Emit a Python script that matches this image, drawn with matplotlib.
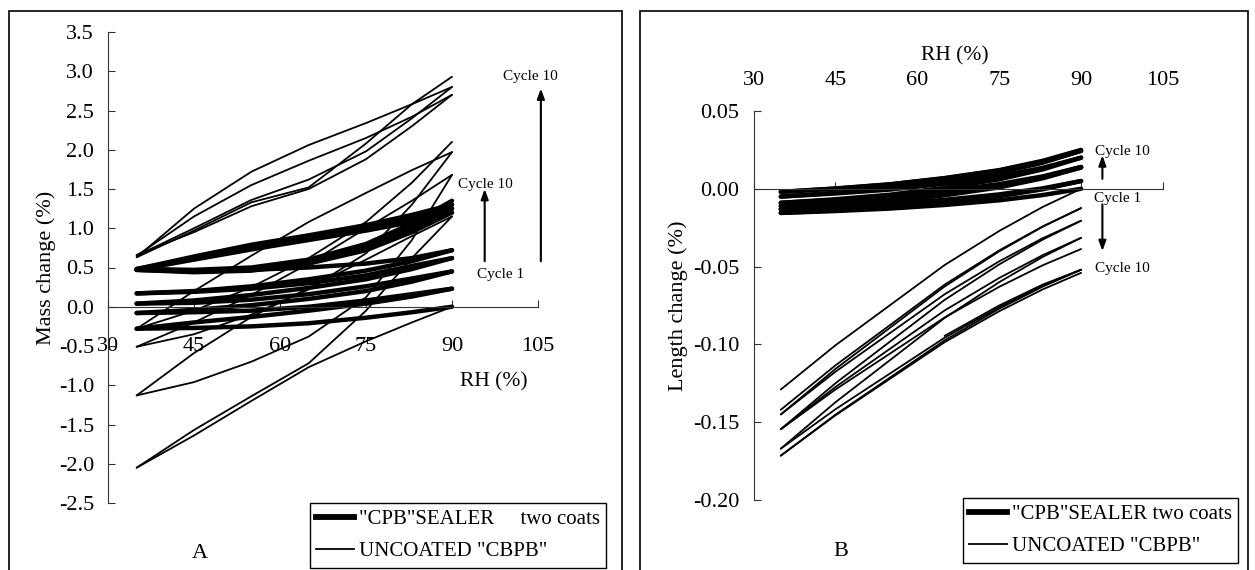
import matplotlib
matplotlib.use("Agg")
import matplotlib.pyplot as plt
from matplotlib.patches import Rectangle
from matplotlib.lines import Line2D

plt.rcParams['font.family'] = ['Liberation Serif', 'DejaVu Serif']
plt.rcParams['axes.unicode_minus'] = False

# RH steps (%) of every half cycle; each branch below is listed from 35 to 90 % RH
rh = [35, 45, 55, 65, 75, 83, 90]

# A - mass change (%), "CPB" sealer two coats
mass_coated = [
    [-0.28, -0.27, -0.25, -0.21, -0.14, -0.07, 0.00],
    [-0.28, -0.20, -0.13, -0.05, 0.04, 0.13, 0.23],
    [-0.08, -0.07, -0.05, 0.00, 0.08, 0.16, 0.23],
    [-0.08, -0.04, 0.02, 0.10, 0.20, 0.32, 0.45],
    [0.04, 0.05, 0.09, 0.16, 0.26, 0.36, 0.45],
    [0.04, 0.08, 0.15, 0.24, 0.35, 0.48, 0.62],
    [0.17, 0.19, 0.23, 0.30, 0.40, 0.52, 0.62],
    [0.17, 0.20, 0.26, 0.35, 0.46, 0.58, 0.72],
    [0.47, 0.46, 0.47, 0.50, 0.55, 0.62, 0.72],
    [0.47, 0.44, 0.46, 0.55, 0.72, 0.95, 1.20],
    [0.47, 0.60, 0.73, 0.85, 0.97, 1.08, 1.20],
    [0.47, 0.45, 0.47, 0.57, 0.75, 0.98, 1.25],
    [0.48, 0.62, 0.76, 0.88, 1.00, 1.13, 1.25],
    [0.48, 0.46, 0.48, 0.58, 0.77, 1.02, 1.30],
    [0.48, 0.64, 0.79, 0.91, 1.04, 1.17, 1.30],
    [0.48, 0.47, 0.50, 0.60, 0.80, 1.06, 1.35],
]

# A - mass change (%), uncoated "CBPB"
mass_uncoated = [
    [-2.05, -1.64, -1.20, -0.77, -0.44, -0.20, 0.00],
    [-2.05, -1.57, -1.14, -0.72, -0.05, 0.62, 1.15],
    [-1.13, -0.59, -0.13, 0.24, 0.60, 0.90, 1.15],
    [-1.13, -0.96, -0.70, -0.38, 0.12, 0.85, 1.68],
    [-0.51, -0.20, 0.15, 0.55, 1.00, 1.35, 1.68],
    [-0.51, -0.35, -0.10, 0.22, 0.68, 1.30, 1.97],
    [-0.28, 0.20, 0.65, 1.08, 1.45, 1.74, 1.97],
    [-0.28, -0.05, 0.25, 0.62, 1.08, 1.58, 2.10],
    [0.66, 0.95, 1.28, 1.50, 1.88, 2.30, 2.70],
    [0.65, 1.15, 1.55, 1.86, 2.15, 2.42, 2.70],
    [0.65, 1.00, 1.36, 1.62, 1.98, 2.40, 2.80],
    [0.63, 1.25, 1.72, 2.06, 2.34, 2.58, 2.80],
    [0.63, 0.97, 1.33, 1.52, 2.08, 2.58, 2.93],
]

# B - length change (%), "CPB" sealer two coats
len_coated = [
    [-0.0155, -0.0143, -0.0127, -0.0104, -0.0074, -0.0040, 0.0000],
    [-0.0155, -0.0139, -0.0118, -0.0087, -0.0048, -0.0003, 0.0050],
    [-0.0130, -0.0116, -0.0098, -0.0071, -0.0036, 0.0003, 0.0050],
    [-0.0130, -0.0109, -0.0082, -0.0042, 0.0009, 0.0068, 0.0137],
    [-0.0110, -0.0090, -0.0066, -0.0028, 0.0018, 0.0073, 0.0137],
    [-0.0110, -0.0090, -0.0065, -0.0028, 0.0020, 0.0075, 0.0140],
    [-0.0090, -0.0072, -0.0049, -0.0014, 0.0030, 0.0080, 0.0140],
    [-0.0090, -0.0067, -0.0038, 0.0006, 0.0061, 0.0125, 0.0200],
    [-0.0050, -0.0030, -0.0005, 0.0033, 0.0080, 0.0135, 0.0200],
    [-0.0050, -0.0026, 0.0003, 0.0047, 0.0103, 0.0168, 0.0244],
    [-0.0020, 0.0001, 0.0028, 0.0067, 0.0117, 0.0175, 0.0244],
    [-0.0020, 0.0002, 0.0029, 0.0069, 0.0120, 0.0180, 0.0250],
]

# B - length change (%), uncoated "CBPB"
len_uncoated = [
    [-0.1290, -0.1006, -0.0748, -0.0490, -0.0271, -0.0116, 0.0000],
    [-0.1420, -0.1135, -0.0876, -0.0616, -0.0396, -0.0241, -0.0124],
    [-0.1450, -0.1158, -0.0893, -0.0628, -0.0402, -0.0243, -0.0124],
    [-0.1450, -0.1176, -0.0927, -0.0678, -0.0466, -0.0317, -0.0205],
    [-0.1545, -0.1250, -0.0982, -0.0714, -0.0486, -0.0326, -0.0205],
    [-0.1545, -0.1274, -0.1028, -0.0782, -0.0573, -0.0426, -0.0315],
    [-0.1545, -0.1290, -0.1059, -0.0827, -0.0630, -0.0491, -0.0387],
    [-0.1670, -0.1372, -0.1101, -0.0830, -0.0600, -0.0437, -0.0315],
    [-0.1670, -0.1417, -0.1187, -0.0957, -0.0761, -0.0623, -0.0520],
    [-0.1715, -0.1452, -0.1213, -0.0974, -0.0771, -0.0628, -0.0520],
    [-0.1715, -0.1456, -0.1221, -0.0986, -0.0787, -0.0646, -0.0540],
]
len_tail_rh = [65, 75, 83, 90]
len_tail = [-0.0945, -0.0750, -0.0615, -0.0520]

rh_ticks = [30, 45, 60, 75, 90, 105]
mass_ticks = [-2.5, -2.0, -1.5, -1.0, -0.5, 0.0, 0.5, 1.0, 1.5, 2.0, 2.5, 3.0, 3.5]
len_ticks = [-0.20, -0.15, -0.10, -0.05, 0.00, 0.05]

W, H = 1255, 570
fig = plt.figure(figsize=(W / 100, H / 100), dpi=100)


def px_box(x0, y0, x1, y1):
    return [x0 / W, 1 - y1 / H, (x1 - x0) / W, (y1 - y0) / H]


# panel frames
for x0, x1 in [(9, 622), (640, 1248)]:
    fig.add_artist(Rectangle((x0 / W, -0.05), (x1 - x0) / W, 1 - 11 / H + 0.05,
                             transform=fig.transFigure, fill=False,
                             edgecolor='black', lw=1.2))

THICK = 3.2
THIN = 1.3
line_kw = dict(color='black', solid_joinstyle='round', solid_capstyle='round')


def setup(ax, yticks, ylim, fmt):
    ax.set_facecolor('none')
    ax.spines['top'].set_visible(False)
    ax.spines['right'].set_visible(False)
    ax.spines['bottom'].set_position(('data', 0))
    for s in ['left', 'bottom']:
        ax.spines[s].set_linewidth(0.8)
        ax.spines[s].set_color('#333333')
    ax.set_xlim(30, 105)
    ax.set_ylim(*ylim)
    ax.set_xticks(rh_ticks)
    ax.set_yticks(yticks)
    ax.set_yticklabels([fmt % v for v in yticks])
    ax.tick_params(direction='in', length=5, width=0.8, color='#333333', labelsize=16)
    ax.tick_params(axis='y', pad=10)


# ---- A
axA = fig.add_axes(px_box(108, 32, 538, 503))
setup(axA, mass_ticks, (-2.5, 3.5), '%.1f')
axA.tick_params(axis='x', pad=22)
for vals in mass_coated:
    axA.plot(rh, vals, lw=THICK, **line_kw)
for vals in mass_uncoated:
    axA.plot(rh, vals, lw=THIN, **line_kw)
axA.set_ylabel('Mass change (%)', fontsize=16)
axA.yaxis.set_label_coords(-0.12, 0.5)
axA.set_xlabel('RH (%)', fontsize=15.5)
axA.xaxis.set_label_coords(0.898, 0.277)

arrow_kw = dict(arrowstyle='-|>,head_length=0.6,head_width=0.22', lw=1.5,
                color='black', shrinkA=0, shrinkB=0)
axA.annotate('', xy=(105.5, 2.78), xytext=(105.5, 0.58), arrowprops=arrow_kw,
             annotation_clip=False)
axA.annotate('', xy=(95.7, 1.50), xytext=(95.7, 0.58), arrowprops=arrow_kw,
             annotation_clip=False)
axA.text(103.7, 2.93, 'Cycle 10', fontsize=11, ha='center', va='center')
axA.text(95.9, 1.56, 'Cycle 10', fontsize=11, ha='center', va='center')
axA.text(98.5, 0.41, 'Cycle 1', fontsize=11, ha='center', va='center')

# ---- B
axB = fig.add_axes(px_box(753.5, 111, 1163, 500))
setup(axB, len_ticks, (-0.20, 0.05), '%.2f')
axB.tick_params(axis='x', labelbottom=False, labeltop=True, top=False, pad=15)
for vals in len_coated:
    axB.plot(rh, vals, lw=THICK, **line_kw)
for vals in len_uncoated:
    axB.plot(rh, vals, lw=THIN, **line_kw)
axB.plot(len_tail_rh, len_tail, lw=THIN, **line_kw)
axB.set_ylabel('Length change (%)', fontsize=16)
axB.yaxis.set_label_coords(-0.16, 0.5)
axB.xaxis.set_label_position('top')
axB.set_xlabel('RH (%)', fontsize=15.5)
axB.xaxis.set_label_coords(0.492, 1.13)

axB.annotate('', xy=(93.9, 0.0215), xytext=(93.9, 0.0064), arrowprops=arrow_kw,
             annotation_clip=False)
axB.annotate('', xy=(93.9, -0.040), xytext=(93.9, -0.010), arrowprops=arrow_kw,
             annotation_clip=False)
axB.text(97.6, 0.0237, 'Cycle 10', fontsize=11, ha='center', va='center')
axB.text(96.7, -0.0061, 'Cycle 1', fontsize=11, ha='center', va='center')
axB.text(97.6, -0.0513, 'Cycle 10', fontsize=11, ha='center', va='center')

# ---- legends and panel letters
for ax, (lx, ly), lab in [(axA, (310, 503), '"CPB"SEALER     two coats'),
                          (axB, (963, 498), '"CPB"SEALER two coats')]:
    handles = [Line2D([], [], color='black', lw=4.2),
               Line2D([], [], color='black', lw=1.3)]
    leg = ax.legend(handles, [lab, 'UNCOATED "CBPB"'], loc='upper left',
                    bbox_to_anchor=(lx / W, 1 - ly / H), bbox_transform=fig.transFigure,
                    borderaxespad=0, borderpad=0.3, fontsize=15, handlelength=1.8,
                    handletextpad=0.25, labelspacing=0.62, fancybox=False,
                    framealpha=1, edgecolor='black')
    leg.get_frame().set_linewidth(1.0)

fig.text(200 / W, 1 - 553 / H, 'A', fontsize=16, ha='center', va='center')
fig.text(841 / W, 1 - 551 / H, 'B', fontsize=16, ha='center', va='center')

fig.savefig('out.png', dpi=100)
